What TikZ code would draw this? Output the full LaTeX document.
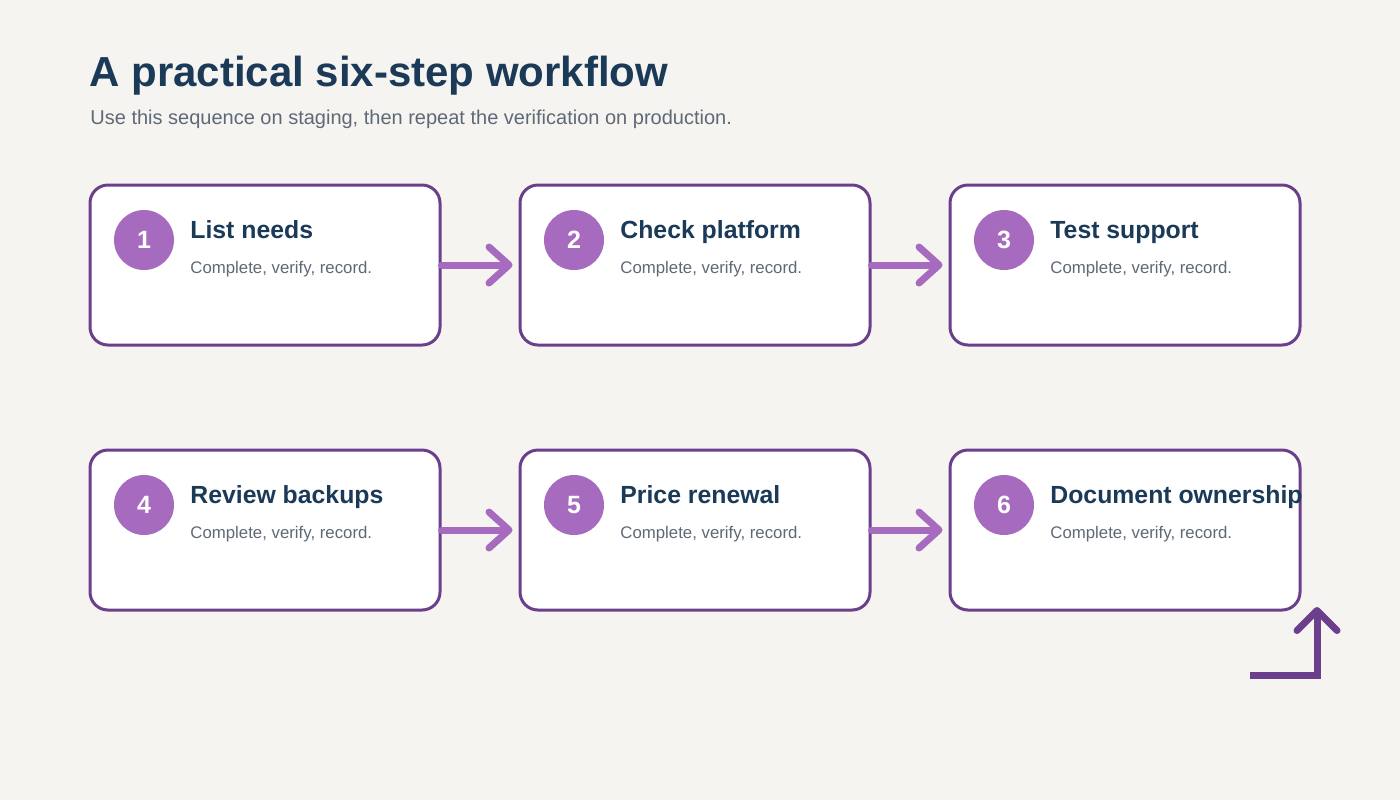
\documentclass[tikz,border=0pt]{standalone}
\usepackage{fontspec}
\setmainfont{Liberation Sans}
\usepackage{xcolor}
\usepackage{tikz}
\usetikzlibrary{positioning,arrows.meta,calc}
\definecolor{wfpaper}{RGB}{245,244,241}
\definecolor{wfnavy}{RGB}{27,58,87}
\definecolor{wfgray}{RGB}{95,105,118}
\definecolor{wfpurple}{RGB}{107,63,140}
\definecolor{wflilac}{RGB}{166,107,190}

\begin{document}
\begin{tikzpicture}[
  x=0.5pt, y=-0.5pt,
  stepbox/.style={rounded corners=9pt, draw=wfpurple, line width=1.5pt, fill=white,
    minimum width=175pt, minimum height=80pt, inner sep=0pt},
  badge/.style={circle, fill=wflilac, minimum size=30pt, inner sep=0pt,
    text=white, font=\bfseries\fontsize{12.5}{14}\selectfont},
  steptitle/.style={anchor=base west, inner sep=0pt, text=wfnavy,
    font=\bfseries\fontsize{12.4}{15}\selectfont},
  stepnote/.style={anchor=base west, inner sep=0pt, text=wfgray,
    font=\fontsize{8.4}{10}\selectfont},
  arr/.style={-{Straight Barb[length=10pt, width=18pt, round]}, line width=3.5pt,
    wflilac, line cap=round, shorten >=3pt}
]
  \useasboundingbox[fill=wfpaper] (0,0) rectangle (1400,800);

  % --- Heading ---
  \node[anchor=base west, inner sep=0pt, text=wfnavy, font=\bfseries\fontsize{21}{25}\selectfont]
    (heading) at (89,86) {A practical six-step workflow};
  \node[anchor=base west, inner sep=0pt, text=wfgray, font=\fontsize{10}{12}\selectfont]
    (subheading) at (90,124) {Use this sequence on staging, then repeat the verification on production.};

  % --- Row 1: steps 1 to 3 ---
  \node[stepbox] (step1) at (265,265)  {};
  \node[stepbox] (step2) at (695,265)  {};
  \node[stepbox] (step3) at (1125,265) {};

  \node[badge]     (num1)   at (144,240)  {1};
  \node[steptitle] (title1) at (190,238)  {List needs};
  \node[stepnote]  (note1)  at (190,273)  {Complete, verify, record.};

  \node[badge]     (num2)   at (574,240)  {2};
  \node[steptitle] (title2) at (620,238)  {Check platform};
  \node[stepnote]  (note2)  at (620,273)  {Complete, verify, record.};

  \node[badge]     (num3)   at (1004,240) {3};
  \node[steptitle] (title3) at (1050,238) {Test support};
  \node[stepnote]  (note3)  at (1050,273) {Complete, verify, record.};

  % --- Row 2: steps 4 to 6 ---
  \node[stepbox] (step4) at (265,530)  {};
  \node[stepbox] (step5) at (695,530)  {};
  \node[stepbox] (step6) at (1125,530) {};

  \node[badge]     (num4)   at (144,505)  {4};
  \node[steptitle] (title4) at (190,503)  {Review backups};
  \node[stepnote]  (note4)  at (190,538)  {Complete, verify, record.};

  \node[badge]     (num5)   at (574,505)  {5};
  \node[steptitle] (title5) at (620,503)  {Price renewal};
  \node[stepnote]  (note5)  at (620,538)  {Complete, verify, record.};

  \node[badge]     (num6)   at (1004,505) {6};
  \node[steptitle] (title6) at (1050,503) {Document ownership};
  \node[stepnote]  (note6)  at (1050,538) {Complete, verify, record.};

  % --- Arrows between steps ---
  \draw[arr] (step1) -- (step2);
  \draw[arr] (step2) -- (step3);
  \draw[arr] (step4) -- (step5);
  \draw[arr] (step5) -- (step6);

  % --- Return arrow, bottom right ---
  \coordinate (loopstart) at (1250,675);
  \coordinate (loopbend)  at (1317,675);
  \coordinate (looptip)   at (1317,607);
  \draw[wfpurple, line width=3.5pt, line join=miter,
        -{Straight Barb[length=10pt, width=20pt, round]}]
    (loopstart) -- (loopbend) -- (looptip);
\end{tikzpicture}
\end{document}
